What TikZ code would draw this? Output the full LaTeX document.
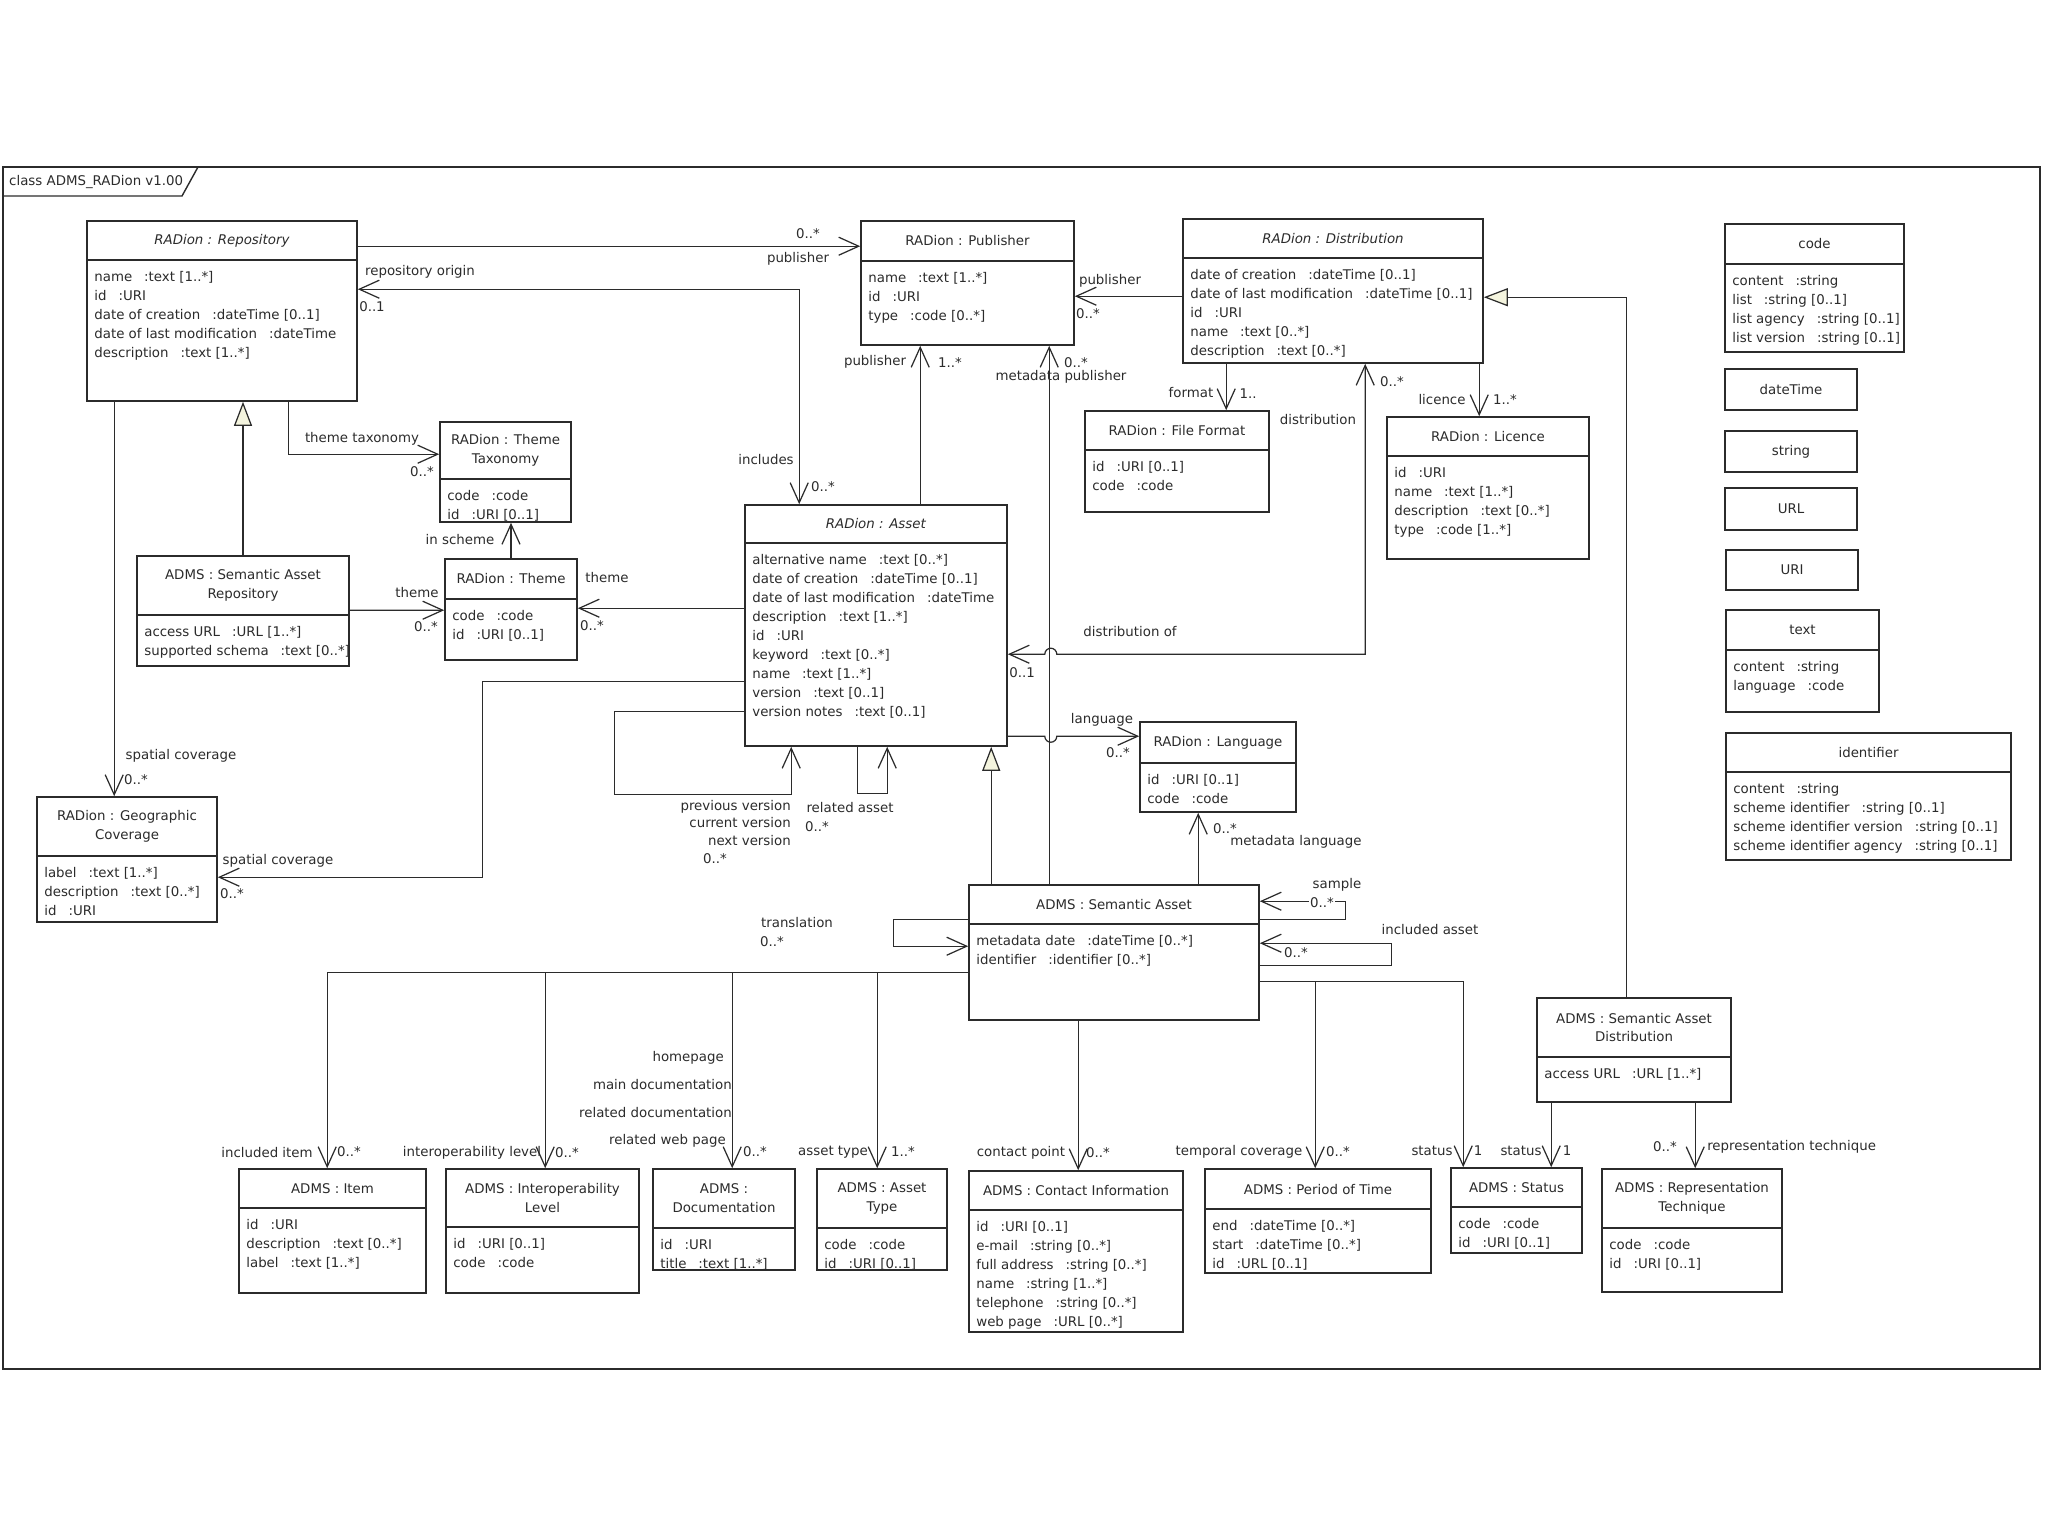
\documentclass[tikz,border=0pt]{standalone}
\usepackage{fontspec}
\setmainfont{DejaVu Sans}
\usepackage{xcolor}
\usepackage{tikz}
\usetikzlibrary{positioning, arrows.meta, calc, fit}
\definecolor{umlInk}{HTML}{2B2B2B}
\definecolor{umlTri}{HTML}{F4F4DE}
\newcommand{\umlf}{\fontsize{7.6}{10.8}\selectfont}
\newcommand{\ty}{\hspace{0.9em}:}
% class box: name, x1, y1, x2, y2, y of title line, title, attributes
\newcommand{\umlclass}[8]{%
  \node[clsbox, fit={(#2,#3) (#4,#5)}] (#1) {};
  \draw[clssep] (#2,#6) -- (#4,#6);
  \node[clstitle] (#1-t) at ($(#2,#3)!0.5!(#4,#6)$) {#7};
  \node[clsattr] (#1-a) at ($(#2,#6)+(7,11)$) {#8};}
% data type box with a name only
\newcommand{\umltype}[6]{%
  \node[clsbox, fit={(#2,#3) (#4,#5)}] (#1) {};
  \node[clstitle] (#1-t) at (#1.center) {#6};}

\begin{document}
\begin{tikzpicture}[x=0.02cm, y=-0.02cm, font=\umlf, text=umlInk,
  clsbox/.style={draw=umlInk, line width=0.9pt, fill=white, inner sep=0pt},
  clssep/.style={draw=umlInk, line width=1.1pt},
  clstitle/.style={font=\umlf, align=center, inner sep=0pt},
  clsattr/.style={font=\umlf, align=left, anchor=north west, inner sep=0pt},
  frm/.style={draw=umlInk, line width=0.8pt},
  nav/.style={draw=umlInk, line width=0.7pt, -{Straight Barb[length=4mm, width=3.6mm]}},
  nav2/.style={draw=umlInk, line width=0.7pt, {Straight Barb[length=4mm, width=3.6mm]}-{Straight Barb[length=4mm, width=3.6mm]}},
  gen/.style={draw=umlInk, line width=0.7pt, -{Triangle[length=4.8mm, width=3.6mm, fill=umlTri]}},
  lbl/.style={font=\umlf, inner sep=0.5pt}]
\useasboundingbox (0,0) rectangle (2048,1536);
% frame
\draw[frm] (3,167) rectangle (2040,1369);
\draw[frm] (3,196) -- (182,196) -- (198,167);
\node[lbl, anchor=west] (frmlbl) at (8,182) {class ADMS\_RADion v1.00};

% classes
\umlclass{repo}{87}{221}{357}{401}{260}{\textit{RADion : Repository}}{name\ty text [1..*]\\id\ty URI\\date of creation\ty dateTime [0..1]\\date of last modification\ty dateTime\\description\ty text [1..*]}
\umlclass{pub}{861}{221}{1074}{345}{261}{RADion : Publisher}{name\ty text [1..*]\\id\ty URI\\type\ty code [0..*]}
\umlclass{dist}{1183}{219}{1483}{363}{258}{\textit{RADion : Distribution}}{date of creation\ty dateTime [0..1]\\date of last modification\ty dateTime [0..1]\\id\ty URI\\name\ty text [0..*]\\description\ty text [0..*]}
\umlclass{ffmt}{1085}{411}{1269}{512}{450}{RADion : File Format}{id\ty URI [0..1]\\code\ty code}
\umlclass{lic}{1387}{417}{1589}{559}{456}{RADion : Licence}{id\ty URI\\name\ty text [1..*]\\description\ty text [0..*]\\type\ty code [1..*]}
\umlclass{taxo}{440}{422}{571}{522}{479}{RADion : Theme\\Taxonomy}{code\ty code\\id\ty URI [0..1]}
\umlclass{sarepo}{137}{556}{349}{666}{615}{ADMS : Semantic Asset\\Repository}{access URL\ty URL [1..*]\\supported schema\ty text [0..*]}
\umlclass{theme}{445}{559}{577}{660}{599}{RADion : Theme}{code\ty code\\id\ty URI [0..1]}
\umlclass{asset}{745}{505}{1007}{746}{543}{\textit{RADion : Asset}}{alternative name\ty text [0..*]\\date of creation\ty dateTime [0..1]\\date of last modification\ty dateTime\\description\ty text [1..*]\\id\ty URI\\keyword\ty text [0..*]\\name\ty text [1..*]\\version\ty text [0..1]\\version notes\ty text [0..1]}
\umlclass{geo}{37}{797}{217}{922}{856}{RADion : Geographic\\Coverage}{label\ty text [1..*]\\description\ty text [0..*]\\id\ty URI}
\umlclass{lang}{1140}{722}{1296}{812}{763}{RADion : Language}{id\ty URI [0..1]\\code\ty code}
\umlclass{sasset}{969}{885}{1259}{1020}{924}{ADMS : Semantic Asset}{metadata date\ty dateTime [0..*]\\identifier\ty identifier [0..*]}
\umlclass{sadist}{1537}{998}{1731}{1102}{1057}{ADMS : Semantic Asset\\Distribution}{access URL\ty URL [1..*]}
\umlclass{item}{239}{1169}{426}{1293}{1208}{ADMS : Item}{id\ty URI\\description\ty text [0..*]\\label\ty text [1..*]}
\umlclass{interop}{446}{1169}{639}{1293}{1227}{ADMS : Interoperability\\Level}{id\ty URI [0..1]\\code\ty code}
\umlclass{doc}{653}{1169}{795}{1270}{1228}{ADMS :\\Documentation}{id\ty URI\\title\ty text [1..*]}
\umlclass{atype}{817}{1169}{947}{1270}{1228}{ADMS : Asset\\Type}{code\ty code\\id\ty URI [0..1]}
\umlclass{contact}{969}{1171}{1183}{1332}{1210}{ADMS : Contact Information}{id\ty URI [0..1]\\e-mail\ty string [0..*]\\full address\ty string [0..*]\\name\ty string [1..*]\\telephone\ty string [0..*]\\web page\ty URL [0..*]}
\umlclass{period}{1205}{1169}{1431}{1273}{1209}{ADMS : Period of Time}{end\ty dateTime [0..*]\\start\ty dateTime [0..*]\\id\ty URL [0..1]}
\umlclass{status}{1451}{1168}{1582}{1253}{1207}{ADMS : Status}{code\ty code\\id\ty URI [0..1]}
\umlclass{reptech}{1602}{1169}{1782}{1292}{1228}{ADMS : Representation\\Technique}{code\ty code\\id\ty URI [0..1]}
% data types
\umlclass{tcode}{1725}{224}{1904}{352}{264}{code}{content\ty string\\list\ty string [0..1]\\list agency\ty string [0..1]\\list version\ty string [0..1]}
\umltype{tdate}{1725}{369}{1857}{410}{dateTime}
\umltype{tstr}{1725}{431}{1857}{472}{string}
\umltype{turl}{1725}{488}{1857}{530}{URL}
\umltype{turi}{1726}{550}{1858}{590}{URI}
\umlclass{ttext}{1726}{610}{1879}{712}{650}{text}{content\ty string\\language\ty code}
\umlclass{tident}{1726}{733}{2011}{860}{772}{identifier}{content\ty string\\scheme identifier\ty string [0..1]\\scheme identifier version\ty string [0..1]\\scheme identifier agency\ty string [0..1]}

% associations
\draw[nav] ($(repo.north east)+(0,26)$) -- ($(pub.north west)+(0,26)$);
\draw[nav2] ($(repo.north east)+(0,69)$) -| ($(asset.north west)+(55,0)$);
\draw[nav] ($(repo.south west)+(202,0)$) |- ($(taxo.north west)+(0,33)$);
\draw[gen] (sarepo.north) -- (sarepo.north |- repo.south);
\draw[nav] (theme.north) -- (theme.north |- taxo.south);
\draw[nav] ($(asset.north west)+(176,0)$) -- ($(pub.south west)+(60,0)$);
\draw[nav] ($(sasset.north west)+(81,0)$) -- ($(pub.south west)+(189,0)$);
\draw[nav] ($(dist.north west)+(0,78)$) -- ($(pub.north east)+(0,76)$);
\draw[nav] ($(dist.south west)+(44,0)$) -- ($(ffmt.north west)+(142,0)$);
\draw[nav] ($(dist.south west)+(297,0)$) -- ($(lic.north west)+(93,0)$);
\draw[nav2] ($(dist.south west)+(183,0)$) |- ($(asset.north east)+(49,150)$) arc[start angle=0, end angle=-180, radius=6] -- ($(asset.north east)+(0,150)$);
\draw[gen] ($(sadist.north west)+(90,0)$) |- ($(dist.north east)+(0,79)$);
\draw[nav] ($(sarepo.north east)+(0,55)$) -- ($(theme.north west)+(0,52)$);
\draw[nav] ($(asset.north west)+(0,104)$) -- ($(theme.north east)+(0,50)$);
\draw[nav] ($(repo.south west)+(28,0)$) -- ($(geo.north west)+(78,0)$);
\draw[nav] ($(asset.north west)+(0,177)$) -| ($(geo.north east)+(265,81)$) -- ($(geo.north east)+(0,81)$);
\draw[nav] ($(asset.north west)+(0,207)$) -| ($(asset.south west)+(-130,48)$) -| ($(asset.south west)+(47,0)$);
\draw[nav] ($(asset.south west)+(113,0)$) |- ($(asset.south west)+(143,47)$) -- ($(asset.south west)+(143,0)$);
\draw[gen] ($(sasset.north west)+(23,0)$) -- ($(asset.south west)+(247,0)$);
\draw[nav] ($(asset.north east)+(0,232)$) -- ($(asset.north east)+(37,232)$) arc[start angle=180, end angle=0, radius=6] -- ($(lang.north west)+(0,15)$);
\draw[nav] ($(sasset.north west)+(230,0)$) -- ($(lang.south west)+(59,0)$);
\draw[nav] ($(sasset.north east)+(0,35)$) -| ($(sasset.north east)+(86,17)$) -- ($(sasset.north east)+(0,17)$);
\draw[nav] ($(sasset.north east)+(0,81)$) -| ($(sasset.north east)+(132,59)$) -- ($(sasset.north east)+(0,59)$);
\draw[nav] ($(sasset.north west)+(0,35)$) -| ($(sasset.north west)+(-75,62)$) -- ($(sasset.north west)+(0,62)$);
\foreach \c/\dx in {item/89, interop/100, doc/80, atype/61}
  \draw[nav] ($(sasset.north west)+(0,88)$) -| ($(\c.north west)+(\dx,0)$);
\draw[nav] ($(sasset.south west)+(110,0)$) -- ($(contact.north west)+(110,0)$);
\foreach \c/\dx in {period/111, status/13}
  \draw[nav] ($(sasset.north east)+(0,97)$) -| ($(\c.north west)+(\dx,0)$);
\draw[nav] ($(sadist.south west)+(15,0)$) -- ($(status.north west)+(101,0)$);
\draw[nav] ($(sadist.south west)+(159,0)$) -- ($(reptech.north west)+(94,0)$);

% role names and multiplicities
\node[lbl] (l-pub1) at (808,234) {0..*};
\node[lbl] (l-pub2) at (798,259) {publisher};
\node[lbl] (l-orig) at (420,272) {repository origin};
\node[lbl] (l-orig2) at (372,307) {0..1};
\node[lbl] (l-incl) at (766,460) {includes};
\node[lbl] (l-incl2) at (823,487) {0..*};
\node[lbl] (l-tax) at (362,439) {theme taxonomy};
\node[lbl] (l-tax2) at (422,472) {0..*};
\node[lbl] (l-sch) at (460,540) {in scheme};
\node[lbl] (l-apub) at (875,362) {publisher};
\node[lbl] (l-apub2) at (950,363) {1..*};
\node[lbl] (l-mpub2) at (1076,363) {0..*};
\node[lbl] (l-mpub) at (1061,377) {metadata publisher};
\node[lbl] (l-dpub) at (1110,281) {publisher};
\node[lbl] (l-dpub2) at (1088,314) {0..*};
\node[lbl] (l-fmt) at (1191,393) {format};
\node[lbl] (l-fmt2) at (1248,394) {1..};
\node[lbl] (l-dst) at (1318,420) {distribution};
\node[lbl] (l-dst2) at (1392,382) {0..*};
\node[lbl] (l-lic) at (1442,400) {licence};
\node[lbl] (l-lic2) at (1505,400) {1..*};
\node[lbl] (l-dof) at (1130,632) {distribution of};
\node[lbl] (l-dof2) at (1022,673) {0..1};
\node[lbl] (l-ath) at (607,578) {theme};
\node[lbl] (l-ath2) at (592,626) {0..*};
\node[lbl] (l-sth) at (417,593) {theme};
\node[lbl] (l-sth2) at (426,627) {0..*};
\node[lbl] (l-rsp) at (181,756) {spatial coverage};
\node[lbl] (l-rsp2) at (136,780) {0..*};
\node[lbl] (l-asp) at (278,861) {spatial coverage};
\node[lbl] (l-asp2) at (232,894) {0..*};
\node[lbl, anchor=east] (l-ver1) at (792,807) {previous version};
\node[lbl, anchor=east] (l-ver2) at (792,823) {current version};
\node[lbl, anchor=east] (l-ver3) at (792,841) {next version};
\node[lbl] (l-ver4) at (715,859) {0..*};
\node[lbl] (l-rel) at (850,808) {related asset};
\node[lbl] (l-rel2) at (817,827) {0..*};
\node[lbl] (l-lng) at (1102,720) {language};
\node[lbl] (l-lng2) at (1118,753) {0..*};
\node[lbl] (l-mlng2) at (1225,829) {0..*};
\node[lbl] (l-mlng) at (1296,842) {metadata language};
\node[lbl] (l-smp) at (1337,885) {sample};
\node[lbl, fill=white] (l-smp2) at (1322,903) {0..*};
\node[lbl] (l-inca) at (1430,930) {included asset};
\node[lbl] (l-inca2) at (1296,953) {0..*};
\node[lbl] (l-trn) at (797,923) {translation};
\node[lbl] (l-trn2) at (772,942) {0..*};
\node[lbl] (l-itm) at (267,1152) {included item};
\node[lbl] (l-itm2) at (349,1152) {0..*};
\node[lbl] (l-iop) at (472,1153) {interoperability level};
\node[lbl] (l-iop2) at (567,1153) {0..*};
\node[lbl, anchor=east] (l-doc1) at (725,1058) {homepage};
\node[lbl, anchor=east] (l-doc2) at (733,1084) {main documentation};
\node[lbl, anchor=east] (l-doc3) at (733,1112) {related documentation};
\node[lbl, anchor=east] (l-doc4) at (727,1141) {related web page};
\node[lbl] (l-doc5) at (755,1152) {0..*};
\node[lbl] (l-aty) at (833,1152) {asset type};
\node[lbl] (l-aty2) at (903,1152) {1..*};
\node[lbl] (l-cnt) at (1021,1153) {contact point};
\node[lbl] (l-cnt2) at (1098,1153) {0..*};
\node[lbl] (l-tmp) at (1239,1152) {temporal coverage};
\node[lbl] (l-tmp2) at (1338,1152) {0..*};
\node[lbl] (l-st1) at (1432,1151) {status};
\node[lbl] (l-st12) at (1478,1151) {1};
\node[lbl] (l-st2) at (1521,1151) {status};
\node[lbl] (l-st22) at (1567,1151) {1};
\node[lbl] (l-rep2) at (1665,1147) {0..*};
\node[lbl, anchor=west] (l-rep) at (1706,1147) {representation technique};
\end{tikzpicture}
\end{document}
